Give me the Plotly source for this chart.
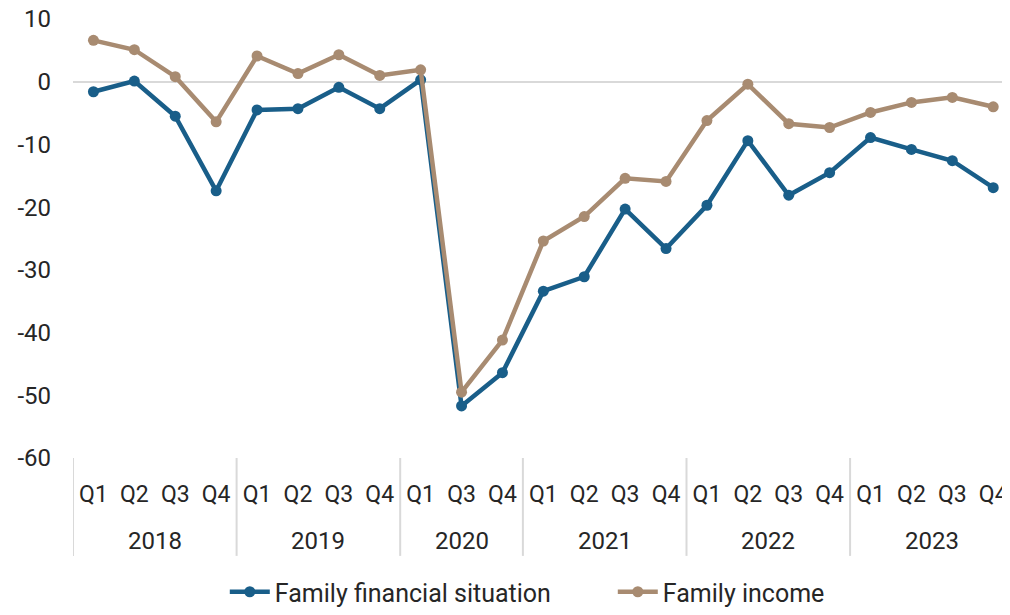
import plotly.graph_objects as go

years = ["2018"] * 4 + ["2019"] * 4 + ["2020"] * 3 + ["2021"] * 4 + ["2022"] * 4 + ["2023"] * 4
quarters = ["Q1", "Q2", "Q3", "Q4",
            "Q1", "Q2", "Q3", "Q4",
            "Q1", "Q3", "Q4",
            "Q1", "Q2", "Q3", "Q4",
            "Q1", "Q2", "Q3", "Q4",
            "Q1", "Q2", "Q3", "Q4"]

family_financial_situation = [-1.6, 0.1, -5.5, -17.4,
                              -4.5, -4.3, -0.9, -4.3,
                              0.3, -51.7, -46.4,
                              -33.4, -31.1, -20.3, -26.6,
                              -19.7, -9.4, -18.1, -14.5,
                              -8.9, -10.8, -12.6, -16.9]

family_income = [6.6, 5.1, 0.8, -6.4,
                 4.1, 1.3, 4.3, 1.0,
                 1.9, -49.5, -41.2,
                 -25.4, -21.5, -15.4, -15.9,
                 -6.2, -0.4, -6.7, -7.3,
                 -4.9, -3.3, -2.5, -4.0]

y_tick_values = [10, 0, -10, -20, -30, -40, -50, -60]
y_tick_labels = ["10", "0", "-10", "-20", "-30", "-40", "-50", "-60"]

BLUE = "#195e89"
TAN = "#a88b71"
FONT = "Roboto, sans-serif"
TXT = "#262626"
GRID = "#d9d9d9"

xi = list(range(len(quarters)))

fig = go.Figure()
fig.add_trace(go.Scatter(
    x=xi, y=family_financial_situation,
    mode="lines+markers", name="Family financial situation",
    line=dict(color=BLUE, width=4.5), marker=dict(color=BLUE, size=11),
))
fig.add_trace(go.Scatter(
    x=xi, y=family_income,
    mode="lines+markers", name="Family income",
    line=dict(color=TAN, width=4.5), marker=dict(color=TAN, size=11),
))

# year groups: labels centred under each group, dividers between groups
groups = []
for i, yr in enumerate(years):
    if not groups or groups[-1][0] != yr:
        groups.append([yr, i, i])
    else:
        groups[-1][2] = i

for yr, a, b in groups:
    fig.add_annotation(x=(a + b) / 2, y=-0.189, xref="x", yref="paper",
                       text=yr, showarrow=False, yanchor="middle",
                       font=dict(family=FONT, size=24, color=TXT))
    fig.add_shape(type="line", xref="x", yref="paper", x0=a - 0.5, x1=a - 0.5,
                  y0=0, y1=-0.223, line=dict(color=GRID, width=2))
fig.add_shape(type="line", xref="x", yref="paper",
              x0=groups[-1][2] + 0.5, x1=groups[-1][2] + 0.5,
              y0=0, y1=-0.223, line=dict(color=GRID, width=2))

fig.update_layout(
    width=1002, height=607,
    margin=dict(l=65, r=0, t=11, b=152),
    paper_bgcolor="white", plot_bgcolor="white",
    font=dict(family=FONT, size=24, color=TXT),
    showlegend=True,
    legend=dict(orientation="h", x=0.162, xanchor="left", y=-0.254, yanchor="top",
                entrywidth=333, entrywidthmode="pixels",
                font=dict(family=FONT, size=25, color=TXT), itemwidth=40),
    xaxis=dict(
        range=[-0.5, 22.41], tickmode="array", tickvals=xi, ticktext=quarters,
        showgrid=False, showline=False, zeroline=False, ticks="",
        ticklabelstandoff=20, automargin=False, ticklabeloverflow="allow",
        tickfont=dict(family=FONT, size=23, color=TXT),
    ),
    yaxis=dict(
        range=[-60, 10], tickmode="array", tickvals=y_tick_values, ticktext=y_tick_labels,
        showgrid=False, showline=False,
        zeroline=True, zerolinecolor=GRID, zerolinewidth=2,
        ticks="", ticklabelstandoff=21, automargin=False, ticklabeloverflow="allow",
        tickfont=dict(family=FONT, size=24, color=TXT),
    ),
)

fig.write_html("out.html")
